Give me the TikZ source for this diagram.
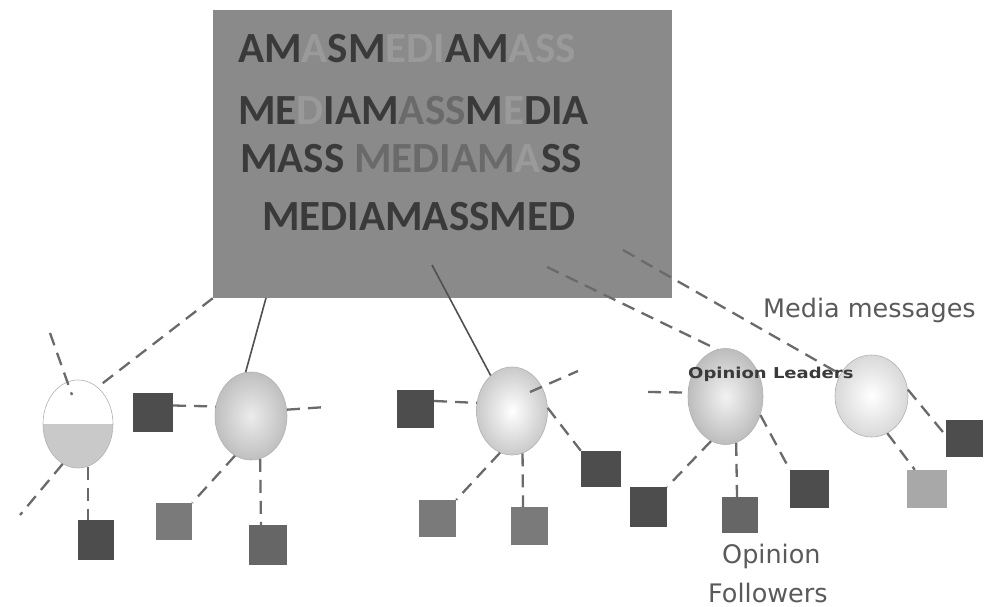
\documentclass[tikz,border=0pt]{standalone}
\usepackage{fontspec}
\setmainfont{DejaVu Sans}
\newfontfamily\boxfont{Carlito}[BoldFont={Carlito Bold}]
\usetikzlibrary{shapes.geometric}
\definecolor{boxgray}{HTML}{8A8A8A}
\definecolor{txdark}{HTML}{3A3A3A}
\definecolor{txmid}{HTML}{6A6A6A}
\definecolor{txfade}{HTML}{9A9A9A}
\definecolor{sqdark}{HTML}{4D4D4D}
\definecolor{sqmid}{HTML}{7A7A7A}
\definecolor{sqmd}{HTML}{666666}
\definecolor{sqlight}{HTML}{A8A8A8}
\definecolor{linegray}{HTML}{6A6A6A}
\definecolor{solidgray}{HTML}{505050}
\definecolor{lbl}{HTML}{5A5A5A}
\tikzset{
  dl/.style={draw=linegray, line width=2.3pt, dash pattern=on 13pt off 8pt},
  sl/.style={draw=solidgray, line width=1.6pt},
  oval/.style={ellipse, inner sep=0pt, draw=gray!60, line width=0.6pt},
  sq/.style={rectangle, inner sep=0pt, draw=none},
  boxline/.style={anchor=base west, inner sep=0pt, font=\boxfont\bfseries\fontsize{43}{43}\selectfont, text=txdark},
  lab/.style={anchor=base west, inner sep=0pt, text=lbl, font=\fontsize{25.5}{25.5}\selectfont}
}
\newcommand{\fd}[1]{\textcolor{txfade}{#1}}
\newcommand{\md}[1]{\textcolor{txmid}{#1}}
\begin{document}
\begin{tikzpicture}[x=1pt,y=-1pt]
\useasboundingbox[fill=white] (0,0) rectangle (991,607);
% main box
\node[rectangle, fill=boxgray, minimum width=459pt, minimum height=288pt, inner sep=0pt] (box) at (442.5,154) {};
\node[boxline] (t1) at (238,63) {AM\fd{A}SM\fd{EDI}AM\fd{ASS}};
\node[boxline] (t2) at (238,125) {ME\fd{D}IAM\md{ASS}M\fd{E}DIA};
\node[boxline] (t3) at (240,173) {MASS \md{MEDIAM}\fd{A}SS};
\node[boxline] (t4) at (262,230) {MEDIAMASSMED};
% ellipses
\node[oval, minimum width=70pt, minimum height=88pt, fill=white,
  path picture={\fill[gray!42] (path picture bounding box.south west) rectangle (path picture bounding box.east);}] (e1) at (78,424) {};
\node[oval, minimum width=72pt, minimum height=88pt, shading=radial, inner color=gray!15, outer color=gray!50] (e2) at (251,416) {};
\node[oval, minimum width=71pt, minimum height=88pt, shading=radial, inner color=white, outer color=gray!42] (e3) at (512,411) {};
\node[oval, minimum width=75pt, minimum height=96pt, shading=radial, inner color=gray!10, outer color=gray!52] (e4) at (725.5,396.5) {};
\node[oval, minimum width=73pt, minimum height=82pt, shading=radial, inner color=white, outer color=gray!30] (e5) at (871.5,396) {};
% squares
\node[sq, fill=sqdark, minimum width=40pt, minimum height=39pt] (s1) at (153,412.5) {};
\node[sq, fill=sqdark, minimum width=36pt, minimum height=40pt] (s2) at (96,540) {};
\node[sq, fill=sqmid, minimum width=36pt, minimum height=37pt] (s3) at (174,521.5) {};
\node[sq, fill=sqmd, minimum width=38pt, minimum height=40pt] (s4) at (268,545) {};
\node[sq, fill=sqdark, minimum width=37pt, minimum height=38pt] (s5) at (415.5,409) {};
\node[sq, fill=sqmid, minimum width=37pt, minimum height=37pt] (s6) at (437.5,518.5) {};
\node[sq, fill=sqmid, minimum width=37pt, minimum height=38pt] (s7) at (529.5,526) {};
\node[sq, fill=sqdark, minimum width=40pt, minimum height=36pt] (s8) at (601,469) {};
\node[sq, fill=sqdark, minimum width=37pt, minimum height=40pt] (s9) at (648.5,507) {};
\node[sq, fill=sqmd, minimum width=36pt, minimum height=36pt] (s10) at (740,515) {};
\node[sq, fill=sqdark, minimum width=39pt, minimum height=38pt] (s11) at (809.5,489) {};
\node[sq, fill=sqdark, minimum width=37pt, minimum height=37pt] (s12) at (964.5,438.5) {};
\node[sq, fill=sqlight, minimum width=40pt, minimum height=38pt] (s13) at (927,489) {};
% coordinates
\coordinate (b2) at (266,298);
\coordinate (b3) at (432,265);
\coordinate (b4) at (547,267);
\coordinate (b5) at (623,250);
\coordinate (c1a) at (50,333);
\coordinate (c1b) at (72,395);
\coordinate (c1c) at (20,515);
\coordinate (c2r) at (326,407);
\coordinate (c3a) at (530,392);
\coordinate (c3b) at (578,371);
\coordinate (c4l) at (648,392);
% connectors from box
\draw[dl] (box.south west) -- (e1.62);
\draw[sl] (b2) -- (e2.97);
\draw[sl] (b3) -- (e3.121);
\draw[dl] (b4) -- (e4.100);
\draw[dl] (b5) -- (e5.145);
% ellipse 1
\draw[dl] (c1a) -- (c1b);
\draw[dl] (e1.-111) -- (c1c);
\draw[dl] (e1.-77) -- (e1.-77 |- s2.north);
% ellipse 2
\draw[dl] ([yshift=7pt]s1.east) -- (e2.165);
\draw[dl] (e2.10) -- (c2r);
\draw[dl] (e2.-112) -- (s3.north east);
\draw[dl] (e2.-78) -- ([xshift=-7pt]s4.north);
% ellipse 3
\draw[dl] ([yshift=8pt]s5.east) -- (e3.167);
\draw[dl] (c3a) -- (c3b);
\draw[dl] (e3.5) -- (s8.north west);
\draw[dl] (e3.-106) -- (s6.north east);
\draw[dl] (e3.-76) -- ([xshift=-6.5pt]s7.north);
% ellipse 4
\draw[dl] (c4l) -- (e4.174);
\draw[dl] (e4.-108) -- (s9.north east);
\draw[dl] (e4.-77) -- ([xshift=-3pt]s10.north);
\draw[dl] (e4.-28) -- (s11.north west);
% ellipse 5
\draw[dl] (e5.10) -- ([yshift=3pt]s12.west);
\draw[dl] (e5.-67) -- ([xshift=8pt]s13.north west);
% labels
\node[lab] (mm) at (763,317) {Media messages};
\node[anchor=base west, inner sep=0pt, text=txdark, font=\bfseries\fontsize{15}{15}\selectfont] (ol) at (688,378) {\scalebox{1.2}[1]{Opinion Leaders}};
\node[lab] (of1) at (722,563) {Opinion};
\node[lab] (of2) at (708,602) {Followers};
\end{tikzpicture}
\end{document}
